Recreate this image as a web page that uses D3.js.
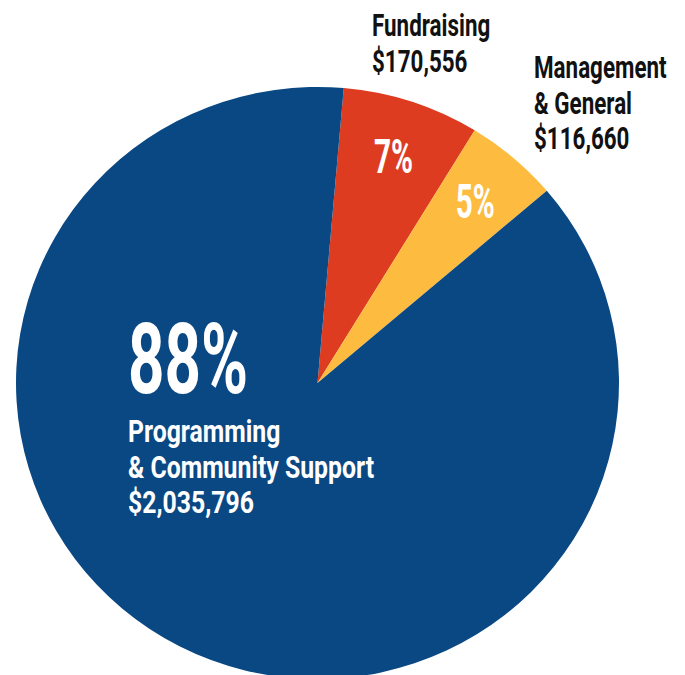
<!doctype html>
<html>
<head>
    <meta charset="UTF-8">
    <title>Expenses</title>
    <script src="https://d3js.org/d3.v7.min.js"></script>
    <style>
        body { margin: 0; background: #fff; }
        text { font-family: Roboto, "Liberation Sans", sans-serif; font-weight: 700; }
    </style>
</head>
<body>
<script>
    // data
    var categories = ["Fundraising", "Management & General", "Programming & Community Support"];
    var amounts = [170556, 116660, 2035796];
    var colors = ["#de3c21", "#fdbc40", "#0a4884"];

    var w = 685, h = 675;
    var cx = 317.5, cy = 383, r = 301.5;
    var squash = 0.982;   // the pie in the picture is a touch flatter than round

    var svg = d3.select("body").append("svg")
        .attr("width", w)
        .attr("height", h);

    var total = d3.sum(amounts);
    var pct = function(v) { return Math.round(v / total * 100) + "%"; };
    var money = d3.format("$,");

    var start = 5 * Math.PI / 180;
    var pie = d3.pie().sort(null).startAngle(start).endAngle(start + 2 * Math.PI);
    var arcs = pie(amounts);

    var arc = d3.arc().innerRadius(0).outerRadius(r);
    var labelArc = d3.arc().innerRadius(243).outerRadius(243);

    var g = svg.append("g")
        .attr("transform", "translate(" + cx + "," + cy + ") scale(1," + squash + ")");

    g.selectAll("path")
        .data(arcs)
        .enter().append("path")
        .attr("d", arc)
        .attr("fill", function(d, i) { return colors[i]; });

    // small percentages inside the two thin slices
    svg.selectAll("text.pct")
        .data(arcs.slice(0, 2))
        .enter().append("text")
        .attr("class", "pct")
        .attr("text-anchor", "middle")
        .attr("font-size", 48)
        .attr("fill", "#fff")
        .attr("transform", function(d) {
            var c = labelArc.centroid(d);
            return "translate(" + (cx + c[0]) + "," + (cy + c[1] * squash + 17) + ") scale(0.62,1)";
        })
        .text(function(d) { return pct(d.value); });

    // big label for programming
    var big = svg.append("g").attr("transform", "translate(128,393)");
    big.append("text")
        .attr("font-size", 98)
        .attr("fill", "#fff")
        .attr("transform", "scale(0.65,1)")
        .text(pct(amounts[2]));

    function block(x, y, lines, fill, narrow) {
        var t = svg.append("g").attr("transform", "translate(" + x + "," + y + ")");
        t.selectAll("text")
            .data(lines)
            .enter().append("text")
            .attr("font-size", 32)
            .attr("fill", fill)
            .attr("transform", function(d, i) { return "translate(0," + (i * 35.5) + ") scale(" + narrow + ",1)"; })
            .text(function(d) { return d; });
    }

    block(128, 442, ["Programming", "& Community Support", money(amounts[2])], "#fff", 0.775);
    block(372, 36, ["Fundraising", money(amounts[0])], "#111", 0.7);
    block(534, 78, ["Management", "& General", money(amounts[1])], "#111", 0.7);
</script>
</body>
</html>
